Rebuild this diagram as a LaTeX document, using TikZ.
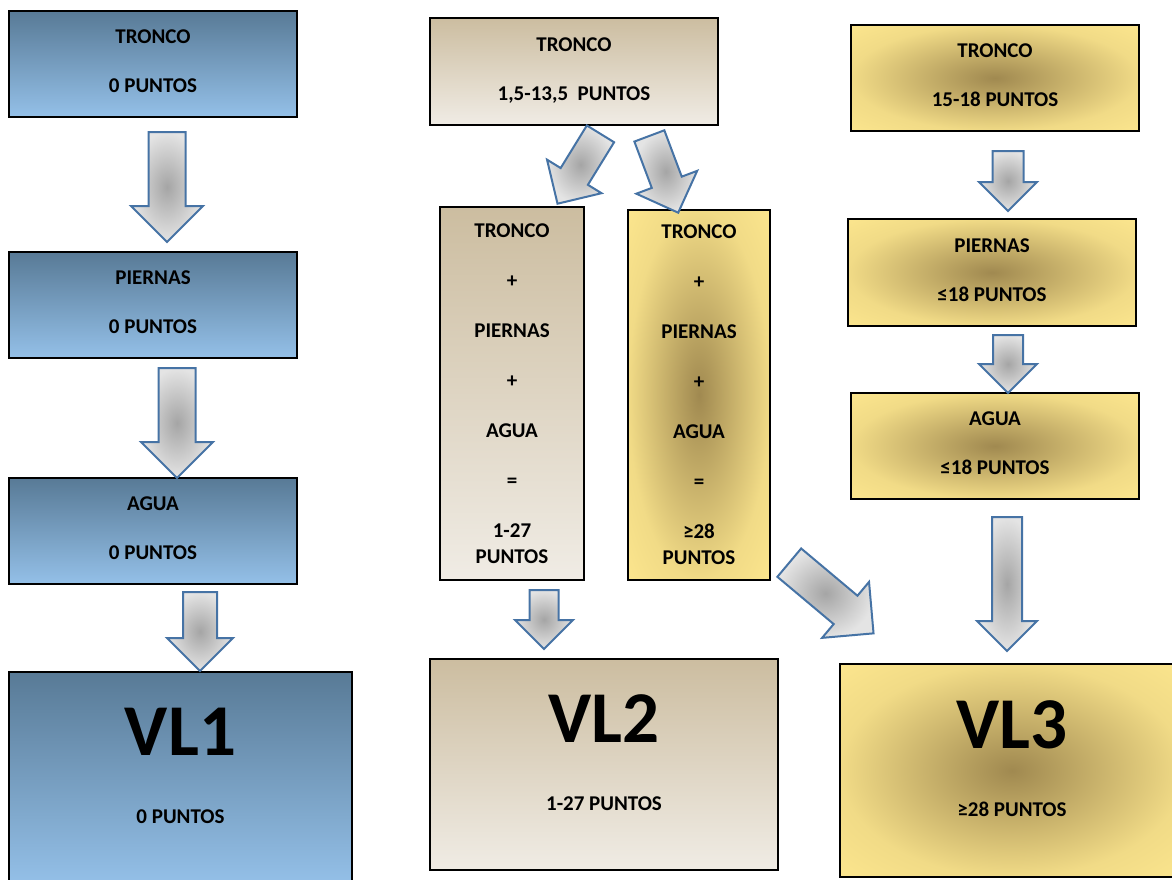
\documentclass[tikz,border=0pt]{standalone}
\usepackage{fontspec}
\setmainfont{Carlito}
\usetikzlibrary{shapes.arrows}

\definecolor{bluetop}{RGB}{88,122,150}
\definecolor{bluebot}{RGB}{148,192,232}
\definecolor{tantop}{RGB}{204,189,160}
\definecolor{tanbot}{RGB}{240,236,229}
\definecolor{goldin}{RGB}{160,137,80}
\definecolor{goldout}{RGB}{252,230,142}
\colorlet{goldedge}{goldout!88!goldin}
\definecolor{arrowblue}{RGB}{70,115,165}
\definecolor{arrowmid}{RGB}{165,165,165}
\definecolor{arrowrim}{RGB}{228,228,228}

\pgfdeclareradialshading{goldglow}{\pgfpoint{0bp}{0bp}}{color(0bp)=(goldin); color(25bp)=(goldedge); color(36bp)=(goldout); color(50bp)=(goldout)}
\pgfdeclareradialshading{greyglow}{\pgfpoint{0bp}{0bp}}{color(0bp)=(arrowmid); color(25bp)=(arrowrim); color(50bp)=(arrowrim)}

\tikzset{
  scorebox/.style={draw=black, line width=1.6pt, align=center, inner sep=0pt,
    font=\bfseries\fontsize{21}{26}\selectfont},
  smallbox/.style={scorebox, minimum width=288pt, minimum height=106pt, text depth=5pt},
  vlbox/.style={scorebox, text depth=24pt},
  bluebox/.style={top color=bluetop, bottom color=bluebot},
  tanbox/.style={top color=tantop, bottom color=tanbot},
  goldbox/.style={shading=goldglow},
  blockarrow/.style={single arrow, draw=arrowblue, line width=2pt,
    shading=greyglow, inner xsep=0pt, anchor=tail},
}

\begin{document}
\begin{tikzpicture}[x=1pt, y=-1pt]
  \useasboundingbox (0,0) rectangle (1172,879);
  \clip (0,0) rectangle (1172,879);

  \node [smallbox, bluebox] (tronco1) at (153,64) {TRONCO\\[23pt]0 PUNTOS};
  \node [smallbox, bluebox] (piernas1) at (153,305) {PIERNAS\\[23pt]0 PUNTOS};
  \node [smallbox, bluebox] (agua1) at (153,531) {AGUA\\[23pt]0 PUNTOS};
  \node [vlbox, bluebox, minimum width=343pt, minimum height=212pt] (vl1) at (180.5,778)
    {{\fontsize{73}{80}\selectfont VL1}\\[42pt]0 PUNTOS};

  \node [smallbox, tanbox, minimum height=107pt] (tronco2) at (574,71.5) {TRONCO\\[23pt]1,5-13,5 \ PUNTOS};
  \node [scorebox, tanbox, minimum width=144pt, minimum height=373pt] (suma2) at (512,393.5)
    {TRONCO\\[24pt]+\\[24pt]PIERNAS\\[24pt]+\\[24pt]AGUA\\[24pt]=\\[24pt]1-27\\PUNTOS};
  \node [scorebox, goldbox, minimum width=142pt, minimum height=370pt] (suma3) at (699,395)
    {TRONCO\\[24pt]+\\[24pt]PIERNAS\\[24pt]+\\[24pt]AGUA\\[24pt]=\\[24pt]≥28\\PUNTOS};
  \node [vlbox, tanbox, minimum width=348pt, minimum height=211pt] (vl2) at (604,764.5)
    {{\fontsize{73}{80}\selectfont VL2}\\[42pt]1-27 PUNTOS};

  \node [smallbox, goldbox] (tronco3) at (995,78) {TRONCO\\[23pt]15-18 PUNTOS};
  \node [smallbox, goldbox, minimum height=107pt] (piernas3) at (992,272.5) {PIERNAS\\[23pt]≤18 PUNTOS};
  \node [smallbox, goldbox] (agua3) at (995,446) {AGUA\\[23pt]≤18 PUNTOS};
  \node [vlbox, goldbox, minimum width=344pt, minimum height=213pt] (vl3) at (1012,770.5)
    {{\fontsize{73}{80}\selectfont VL3}\\[42pt]≥28 PUNTOS};

  \node [blockarrow, rotate=-90, minimum height=110pt, inner ysep=17.5pt, single arrow head extend=17.5pt] (t1p1) at (167,131) {};
  \node [blockarrow, rotate=-90, minimum height=110pt, inner ysep=17.5pt, single arrow head extend=17.5pt] (p1a1) at (177,367) {};
  \node [blockarrow, rotate=-90, minimum height=79pt, inner ysep=16pt, single arrow head extend=16pt] (a1vl1) at (200,591) {};

  \node [blockarrow, rotate=238.4, minimum height=82pt, inner ysep=15pt, single arrow head extend=16pt] (t2s2) at (601,133) {};
  \node [blockarrow, rotate=-69.4, minimum height=82pt, inner ysep=15pt, single arrow head extend=16.5pt] (t2s3) at (649,135) {};
  \node [blockarrow, rotate=-90, minimum height=59pt, inner ysep=13.5pt, single arrow head extend=14.5pt] (s2vl2) at (544,589) {};
  \node [blockarrow, rotate=-40, minimum height=110pt, inner ysep=17.5pt, single arrow head extend=18pt] (s3vl3) at (788.5,562) {};

  \node [blockarrow, rotate=-90, minimum height=60pt, inner ysep=14.5pt, single arrow head extend=13.5pt] (t3p3) at (1008,150) {};
  \node [blockarrow, rotate=-90, minimum height=58pt, inner ysep=14pt, single arrow head extend=14pt] (p3a3) at (1008,334) {};
  \node [blockarrow, rotate=-90, minimum height=134pt, inner ysep=14pt, single arrow head extend=15pt] (a3vl3) at (1007,516) {};

\end{tikzpicture}
\end{document}
